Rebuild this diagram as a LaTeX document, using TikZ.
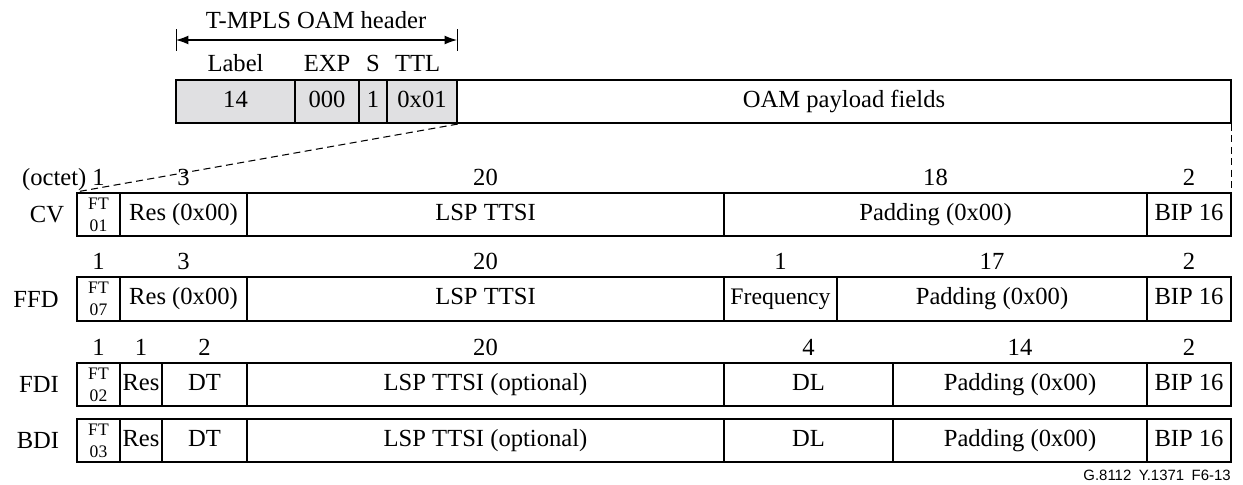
\documentclass[tikz,border=0pt]{standalone}
\usepackage{fontspec}
\setmainfont{Liberation Serif}
\setsansfont{Liberation Sans}
\usetikzlibrary{arrows.meta}

\definecolor{hdrgray}{RGB}{224,224,226}

% one unit is one pixel of the drawing grid (0.02cm)
\tikzset{
  box/.style={draw, line width=0.9pt, inner sep=0pt, minimum height=0.87cm},
  field/.style={box, text height=9.8pt, text depth=3pt, font=\fontsize{14}{16}\selectfont},
  fw/.style={minimum width=#1*0.02cm},
  hdrfield/.style={field, fill=hdrgray},
  ftfield/.style={box, align=center, font=\fontsize{10}{12.5}\selectfont},
  octets/.style={anchor=south, inner sep=0pt, yshift=3.5pt, font=\fontsize{14}{16}\selectfont},
  caption/.style={inner sep=0pt, font=\fontsize{14}{16}\selectfont},
  zoomline/.style={line width=0.6pt, dash pattern=on 4pt off 2.5pt}
}

\begin{document}
\begin{tikzpicture}[x=0.02cm, y=-0.02cm]
  \useasboundingbox (0,0) rectangle (1243,484);

  % header
  \node[hdrfield, fw=119] (lbl) at (235.5,101.5) {14};
  \node[hdrfield, fw=64] (exp) at (327,101.5) {000};
  \node[hdrfield, fw=28] (sbit) at (373,101.5) {1};
  \node[hdrfield, fw=70] (ttl) at (422,101.5) {0x01};
  \node[field, fw=774] (payload) at (844,101.5) {OAM payload fields};

  \node[octets, yshift=0.5pt] (lbltxt) at (lbl.north) {Label};
  \node[octets, yshift=0.5pt] (exptxt) at (exp.north) {EXP};
  \node[octets, yshift=0.5pt] (sbittxt) at (sbit.north) {S};
  \node[octets, yshift=0.5pt, xshift=-2.5pt] (ttltxt) at (ttl.north) {TTL};

  \coordinate (hl) at (176,40);
  \coordinate (hr) at (457,40);
  \draw[line width=0.6pt, {Latex[length=7pt,width=5pt]}-{Latex[length=7pt,width=5pt]}] (hl) -- (hr);
  \draw[line width=0.5pt] ([yshift=6pt]hl) -- ([yshift=-6pt]hl);
  \draw[line width=0.5pt] ([yshift=6pt]hr) -- ([yshift=-6pt]hr);
  \node[caption] (hdrtitle) at (316,20) {T-MPLS OAM header};

  % CV
  \node[ftfield, fw=43] (cvft) at (98.5,214.5) {FT\\01};
  \node[field, fw=127] (cvres) at (183.5,214.5) {Res (0x00)};
  \node[field, fw=477] (cvtsi) at (485.5,214.5) {LSP TTSI};
  \node[field, fw=423] (cvpad) at (935.5,214.5) {Padding (0x00)};
  \node[field, fw=84] (cvbip) at (1189,214.5) {BIP 16};
  \node[caption] (cvname) at (47,215) {CV};

  \node[octets] (n-cv1) at (cvft.north) {1};
  \node[octets] (n-cv2) at (cvres.north) {3};
  \node[octets] (n-cv3) at (cvtsi.north) {20};
  \node[octets] (n-cv4) at (cvpad.north) {18};
  \node[octets] (n-cv5) at (cvbip.north) {2};
  \node[caption, anchor=base east] (octetword) at ([xshift=-3pt]n-cv1.base west) {(octet)};

  \draw[zoomline] (ttl.south east) -- (cvft.north west);
  \draw[zoomline] (payload.south east) -- (cvbip.north east);

  % FFD
  \node[ftfield, fw=43] (ffdft) at (98.5,299) {FT\\07};
  \node[field, fw=127] (ffdres) at (183.5,299) {Res (0x00)};
  \node[field, fw=477] (ffdtsi) at (485.5,299) {LSP TTSI};
  \node[field, fw=113, font=\fontsize{13.5}{15}\selectfont] (ffdfreq) at (780.5,299) {Frequency};
  \node[field, fw=310] (ffdpad) at (992,299) {Padding (0x00)};
  \node[field, fw=84] (ffdbip) at (1189,299) {BIP 16};
  \node[caption] (ffdname) at (36,299) {FFD};

  \node[octets] (n-ffd1) at (ffdft.north) {1};
  \node[octets] (n-ffd2) at (ffdres.north) {3};
  \node[octets] (n-ffd3) at (ffdtsi.north) {20};
  \node[octets] (n-ffd4) at (ffdfreq.north) {1};
  \node[octets] (n-ffd5) at (ffdpad.north) {17};
  \node[octets] (n-ffd6) at (ffdbip.north) {2};

  % FDI
  \node[ftfield, fw=43] (fdift) at (98.5,384.5) {FT\\02};
  \node[field, fw=42] (fdires) at (141,384.5) {Res};
  \node[field, fw=85] (fdidt) at (204.5,384.5) {DT};
  \node[field, fw=477] (fditsi) at (485.5,384.5) {LSP TTSI (optional)};
  \node[field, fw=169] (fdidl) at (808.5,384.5) {DL};
  \node[field, fw=254] (fdipad) at (1020,384.5) {Padding (0x00)};
  \node[field, fw=84] (fdibip) at (1189,384.5) {BIP 16};
  \node[caption] (fdiname) at (39,384.5) {FDI};

  \node[octets] (n-fdi1) at (fdift.north) {1};
  \node[octets] (n-fdi2) at (fdires.north) {1};
  \node[octets] (n-fdi3) at (fdidt.north) {2};
  \node[octets] (n-fdi4) at (fditsi.north) {20};
  \node[octets] (n-fdi5) at (fdidl.north) {4};
  \node[octets] (n-fdi6) at (fdipad.north) {14};
  \node[octets] (n-fdi7) at (fdibip.north) {2};

  % BDI
  \node[ftfield, fw=43] (bdift) at (98.5,440.5) {FT\\03};
  \node[field, fw=42] (bdires) at (141,440.5) {Res};
  \node[field, fw=85] (bdidt) at (204.5,440.5) {DT};
  \node[field, fw=477] (bditsi) at (485.5,440.5) {LSP TTSI (optional)};
  \node[field, fw=169] (bdidl) at (808.5,440.5) {DL};
  \node[field, fw=254] (bdipad) at (1020,440.5) {Padding (0x00)};
  \node[field, fw=84] (bdibip) at (1189,440.5) {BIP 16};
  \node[caption] (bdiname) at (38,440.5) {BDI};

  \node[anchor=east, inner sep=0pt, font=\sffamily\fontsize{8.5}{10}\selectfont] (figtag) at (1231,475) {G.8112\enspace Y.1371\enspace F6-13};
\end{tikzpicture}
\end{document}
